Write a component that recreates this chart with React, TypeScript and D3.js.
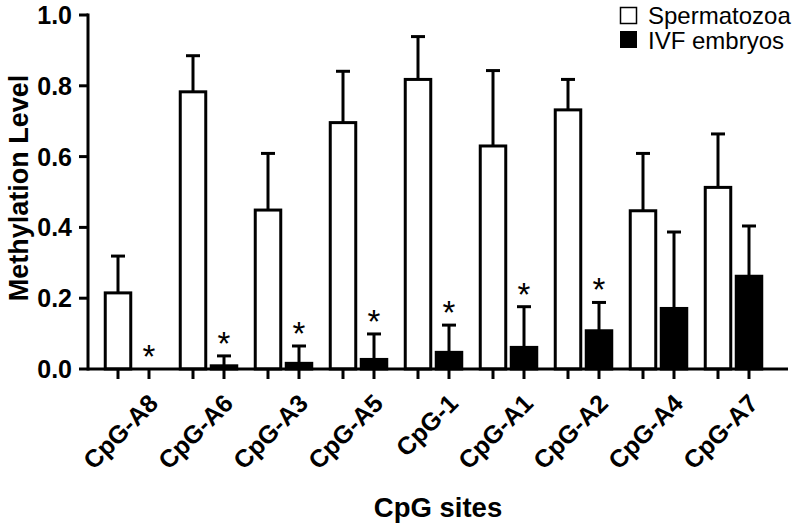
import React from "react";
import * as d3 from "d3";

const categories = ["CpG-A8", "CpG-A6", "CpG-A3", "CpG-A5", "CpG-1", "CpG-A1", "CpG-A2", "CpG-A4", "CpG-A7"];
const seriesNames = ["Spermatozoa", "IVF embryos"];
const spermMean = [0.215, 0.783, 0.449, 0.696, 0.818, 0.63, 0.732, 0.447, 0.513];
const spermSD = [0.104, 0.102, 0.16, 0.145, 0.121, 0.213, 0.086, 0.162, 0.151];
const ivfMean = [0, 0.009, 0.016, 0.027, 0.047, 0.061, 0.108, 0.171, 0.262];
const ivfSD = [0, 0.028, 0.049, 0.072, 0.077, 0.115, 0.08, 0.216, 0.142];
const significant = [true, true, true, true, true, true, true, false, false];
const yTicks = [0, 0.2, 0.4, 0.6, 0.8, 1.0];

const W = 793;
const H = 526;
const FONT = "'Liberation Sans', Arial, Helvetica, sans-serif";

export default function App() {
  const x0 = d3.scaleBand<string>().domain(categories).range([96, 771]).paddingInner(0).paddingOuter(0);
  const x1 = d3.scaleBand<string>().domain(seriesNames).range([6.5, 68.5]).padding(0);
  const y = d3.scaleLinear().domain([0, 1]).range([369, 15]);
  const barW = 25.5;
  const capW = 14;
  const sw = 3;

  const series = [
    { name: seriesNames[0], mean: spermMean, sd: spermSD, fill: "#fff" },
    { name: seriesNames[1], mean: ivfMean, sd: ivfSD, fill: "#000" },
  ];

  return (
    <svg width={W} height={H} style={{ display: "block", position: "absolute", left: 0, top: 0 }} fontFamily={FONT}>
      <rect x={0} y={0} width={W} height={H} fill="#fff" />
      {categories.map((c, i) => (
        <g key={c}>
          {series.map((s) => {
            const cx = (x0(c) as number) + (x1(s.name) as number) + x1.bandwidth() / 2;
            const m = s.mean[i];
            const top = y(m);
            const errTop = y(m + s.sd[i]);
            return (
              <g key={s.name}>
                {m > 0 && (
                  <rect x={cx - barW / 2} y={top} width={barW} height={y(0) - top} fill={s.fill} stroke="#000" strokeWidth={sw} />
                )}
                {s.sd[i] > 0 && (
                  <g stroke="#000" strokeWidth={sw}>
                    <line x1={cx} x2={cx} y1={top} y2={errTop} />
                    <line x1={cx - capW / 2} x2={cx + capW / 2} y1={errTop} y2={errTop} />
                  </g>
                )}
              </g>
            );
          })}
          {significant[i] && (
            <text
              x={(x0(c) as number) + (x1(seriesNames[1]) as number) + x1.bandwidth() / 2}
              y={y(ivfMean[i] + ivfSD[i]) - 1}
              textAnchor="middle"
              fontSize={33}
            >
              *
            </text>
          )}
        </g>
      ))}
      <g stroke="#000" strokeWidth={sw}>
        <line x1={88} x2={88} y1={y(1) - 1.5} y2={y(0) + 1.5} />
        {yTicks.map((t) => (
          <line key={t} x1={79} x2={88} y1={y(t)} y2={y(t)} />
        ))}
      </g>
      {yTicks.map((t) => (
        <text key={t} x={72} y={y(t)} dy="0.36em" textAnchor="end" fontSize={25} fontWeight="bold">
          {d3.format(".1f")(t)}
        </text>
      ))}
      <g stroke="#000" strokeWidth={sw}>
        <line x1={88} x2={788} y1={y(0)} y2={y(0)} />
        {categories.map((c) =>
          seriesNames.map((s) => {
            const cx = (x0(c) as number) + (x1(s) as number) + x1.bandwidth() / 2;
            return <line key={c + s} x1={cx} x2={cx} y1={y(0)} y2={y(0) + 10} />;
          })
        )}
      </g>
      {categories.map((c) => {
        const cx = (x0(c) as number) + x0.bandwidth() / 2 + 26;
        const cy = y(0) + 36;
        return (
          <g key={c} transform={`translate(${cx},${cy})`}>
            <g transform="rotate(-45)">
              <text x={0} y={0} textAnchor="end" fontSize={25} fontWeight="bold">
                {c}
              </text>
            </g>
          </g>
        );
      })}
      <g transform="translate(28,188)">
        <g transform="rotate(-90)">
          <text x={0} y={0} textAnchor="middle" fontSize={27} fontWeight="bold">
            Methylation Level
          </text>
        </g>
      </g>
      <text x={438} y={517} textAnchor="middle" fontSize={27.5} fontWeight="bold">
        CpG sites
      </text>
      <rect x={620.5} y={7.5} width={16} height={16} fill="#fff" stroke="#000" strokeWidth={1.5} />
      <text x={648} y={24} fontSize={24}>
        {seriesNames[0]}
      </text>
      <rect x={620} y={31} width={17} height={17} fill="#000" />
      <text x={648} y={49} fontSize={24}>
        {seriesNames[1]}
      </text>
    </svg>
  );
}
